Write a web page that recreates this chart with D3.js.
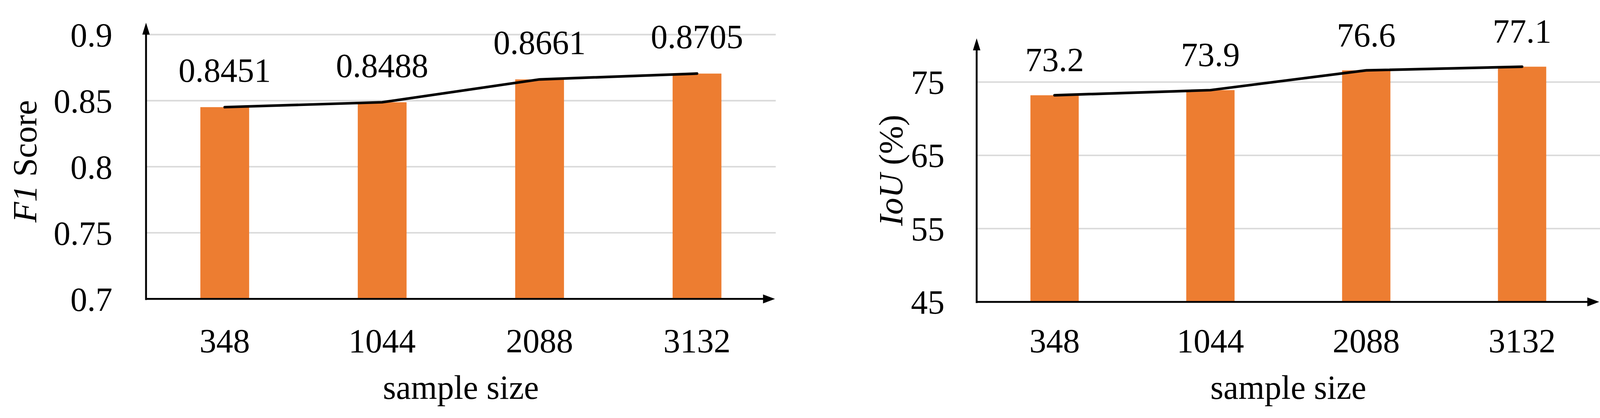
<!DOCTYPE html>
<html><head><meta charset="utf-8">
<script src="https://cdn.jsdelivr.net/npm/d3@7"></script>
<style>html,body{margin:0;padding:0;background:#fff;overflow:hidden}svg{display:block;width:100vw;height:100vh}text{font-family:"Liberation Serif","Times New Roman",serif;fill:#000}</style>
</head><body>
<svg id="chart" viewBox="0 0 4284 1069" preserveAspectRatio="xMidYMid meet"></svg>
<script>
// data
var categories = ["348", "1044", "2088", "3132"];
var f1Values   = [0.8451, 0.8488, 0.8661, 0.8705];
var f1Ticks    = [0.7, 0.75, 0.8, 0.85, 0.9];
var iouValues  = [73.2, 73.9, 76.6, 77.1];
var iouTicks   = [45, 55, 65, 75];

var svg = d3.select("#chart");
var fs = 90;

// one panel
var drawPanel = function(o){
	var g = svg.append("g");
	var x = d3.scaleBand().domain(categories).range([o.left, o.right]);
	var y = d3.scaleLinear().domain(o.domain).range([o.bottom, o.top]);
	var bw = x.bandwidth() * 0.31;

	// gridlines
	g.selectAll(".grid").data(o.ticks.filter(function(t){return t !== o.domain[0];}))
		.enter().append("line")
		.attr("x1", o.left).attr("x2", o.gridEnd)
		.attr("y1", function(d){return y(d);}).attr("y2", function(d){return y(d);})
		.attr("stroke", "#d9d9d9").attr("stroke-width", 4);

	// y tick labels
	g.selectAll(".yt").data(o.ticks).enter().append("text")
		.attr("x", o.tickX).attr("y", function(d){return y(d);})
		.attr("dy", "0.35em").attr("text-anchor", "end")
		.style("font-size", fs + "px")
		.text(function(d){return d;});

	// bars
	g.selectAll(".bar").data(o.values).enter().append("rect")
		.attr("x", function(d,i){return x(categories[i]) + x.bandwidth()/2 - bw/2;})
		.attr("y", function(d){return y(d);})
		.attr("width", bw)
		.attr("height", function(d){return o.bottom - y(d);})
		.attr("fill", "#ED7D31");

	// line
	var line = d3.line()
		.x(function(d,i){return x(categories[i]) + x.bandwidth()/2;})
		.y(function(d){return y(d);});
	g.append("path").datum(o.values).attr("d", line)
		.attr("fill", "none").attr("stroke", "#000").attr("stroke-width", 7)
		.attr("stroke-linecap", "round");

	// value labels
	g.selectAll(".vl").data(o.values).enter().append("text")
		.attr("x", function(d,i){return x(categories[i]) + x.bandwidth()/2;})
		.attr("y", function(d){return y(d) - o.labelOff;})
		.attr("text-anchor", "middle").style("font-size", fs + "px")
		.text(function(d){return o.fmt(d);});

	// x tick labels
	g.selectAll(".xt").data(categories).enter().append("text")
		.attr("x", function(d){return x(d) + x.bandwidth()/2;})
		.attr("y", 918).attr("text-anchor", "middle").style("font-size", fs + "px")
		.text(function(d){return d;});

	// axes with arrows
	g.append("line").attr("x1", o.left).attr("x2", o.left)
		.attr("y1", o.bottom + 3).attr("y2", o.axisTop + 25)
		.attr("stroke", "#000").attr("stroke-width", 5);
	g.append("path")
		.attr("d", "M" + (o.left-10) + "," + (o.axisTop+32) + "L" + o.left + "," + o.axisTop + "L" + (o.left+10) + "," + (o.axisTop+32) + "Z");
	g.append("line").attr("x1", o.left).attr("x2", o.arrowEnd - 25)
		.attr("y1", o.bottom).attr("y2", o.bottom)
		.attr("stroke", "#000").attr("stroke-width", 5);
	g.append("path")
		.attr("d", "M" + (o.arrowEnd-32) + "," + (o.bottom-12) + "L" + o.arrowEnd + "," + o.bottom + "L" + (o.arrowEnd-32) + "," + (o.bottom+12) + "Z");

	// titles
	g.append("text").attr("x", (o.left + o.right)/2).attr("y", 1042)
		.attr("text-anchor", "middle").style("font-size", fs + "px").text("sample size");
	var yt = g.append("text")
		.attr("transform", "translate(" + o.titleX + "," + o.titleY + ") rotate(-90)")
		.attr("text-anchor", "middle").attr("dy", "0.35em").style("font-size", fs + "px");
	yt.append("tspan").style("font-style", "italic").text(o.titleIt);
	yt.append("tspan").text(o.titleRest);
};

drawPanel({left:391, right:2077, gridEnd:2077, arrowEnd:2075, top:68, bottom:775, axisTop:36,
	domain:[0.7,0.9], ticks:f1Ticks, values:f1Values, tickX:301, labelOff:68,
	fmt:function(d){return d3.format(".4f")(d);}, titleX:66, titleY:407, titleIt:"F1", titleRest:" Score"});

drawPanel({left:2615, right:4284, gridEnd:4284, arrowEnd:4282, top:195, bottom:783, axisTop:78,
	domain:[45,75], ticks:iouTicks, values:iouValues, tickX:2529, labelOff:64,
	fmt:function(d){return d3.format(".1f")(d);}, titleX:2384, titleY:431, titleIt:"IoU", titleRest:" (%)"});
</script>
</body></html>
